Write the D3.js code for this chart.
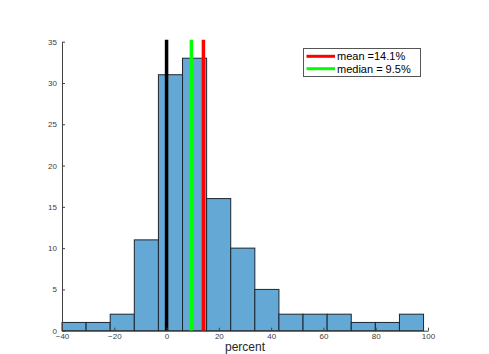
<!DOCTYPE html>
<html>
<head>
<meta charset="utf-8">
<script src="https://cdn.jsdelivr.net/npm/d3@7"></script>
<style>
  body { margin: 0; background: #fff; }
  svg { display: block; font-family: "Liberation Sans", Arial, sans-serif; }
</style>
</head>
<body>
<div id="chart"></div>
<script>
// histogram data
const binStart = -40;
const binWidth = 9.22;
const counts = [1, 1, 2, 11, 31, 33, 16, 10, 5, 2, 2, 2, 1, 1, 2];

const xTicks = [-40, -20, 0, 20, 40, 60, 80, 100];
const yTicks = [0, 5, 10, 15, 20, 25, 30, 35];

// vertical reference lines
const refLines = [
  { value: 0, color: "#000000", label: null },
  { value: 9.5, color: "#00ff00", label: "median = 9.5%" },
  { value: 14.1, color: "#ff0000", label: "mean =14.1%" }
];
const legendOrder = ["mean =14.1%", "median = 9.5%"];

const width = 489, height = 354;
const margin = { top: 41.7, right: 61, bottom: 23.3, left: 62 };

const svg = d3.select("#chart").append("svg")
  .attr("width", width)
  .attr("height", height);

const x = d3.scaleLinear().domain([-40, 100]).range([margin.left, width - margin.right]);
const y = d3.scaleLinear().domain([0, 35]).range([height - margin.bottom, margin.top]);

const bins = counts.map((c, i) => ({
  x0: binStart + i * binWidth,
  x1: binStart + (i + 1) * binWidth,
  count: c
}));

// bars
svg.append("g")
  .selectAll("rect")
  .data(bins)
  .join("rect")
  .attr("x", d => x(d.x0))
  .attr("y", d => y(d.count))
  .attr("width", d => x(d.x1) - x(d.x0))
  .attr("height", d => y(0) - y(d.count))
  .attr("fill", "#64a8d6")
  .attr("stroke", "#1c2630")
  .attr("stroke-width", 1);

// reference lines
svg.append("g")
  .selectAll("line")
  .data(refLines)
  .join("line")
  .attr("x1", d => x(d.value))
  .attr("x2", d => x(d.value))
  .attr("y1", y(0))
  .attr("y2", y(35) - 2)
  .attr("stroke", d => d.color)
  .attr("stroke-width", 3.5);

// axes (ticks point inward)
const xAxis = svg.append("g")
  .attr("transform", `translate(0,${y(0)})`)
  .call(d3.axisBottom(x).tickValues(xTicks).tickSize(-3).tickPadding(3).tickSizeOuter(0));

const yAxis = svg.append("g")
  .attr("transform", `translate(${x(-40)},0)`)
  .call(d3.axisLeft(y).tickValues(yTicks).tickSize(-3).tickPadding(5).tickSizeOuter(0));

[xAxis, yAxis].forEach(ax => {
  ax.select(".domain").attr("stroke", "#404040");
  ax.selectAll(".tick line").attr("stroke", "#404040");
  ax.selectAll(".tick text")
    .attr("fill", "#404040")
    .style("font-size", "8px")
    .style("font-family", "Liberation Sans, Arial, sans-serif");
});

// x label
svg.append("text")
  .attr("x", 245)
  .attr("y", 351)
  .attr("text-anchor", "middle")
  .attr("fill", "#262626")
  .style("font-size", "12px")
  .text("percent");

// legend
const legend = svg.append("g").attr("transform", "translate(303.5,48.5)");
legend.append("rect")
  .attr("width", 117)
  .attr("height", 28)
  .attr("fill", "#fff")
  .attr("stroke", "#555")
  .attr("stroke-width", 1);

const items = legendOrder.map(l => refLines.find(r => r.label === l));
const rows = legend.selectAll("g.item")
  .data(items)
  .join("g")
  .attr("class", "item")
  .attr("transform", (d, i) => `translate(0,${7.8 + i * 12.4})`);

rows.append("line")
  .attr("x1", 3)
  .attr("x2", 31.5)
  .attr("stroke", d => d.color)
  .attr("stroke-width", 3);

rows.append("text")
  .attr("x", 33.5)
  .attr("y", 4)
  .attr("fill", "#000")
  .style("font-size", "11px")
  .text(d => d.label);
</script>
</body>
</html>
